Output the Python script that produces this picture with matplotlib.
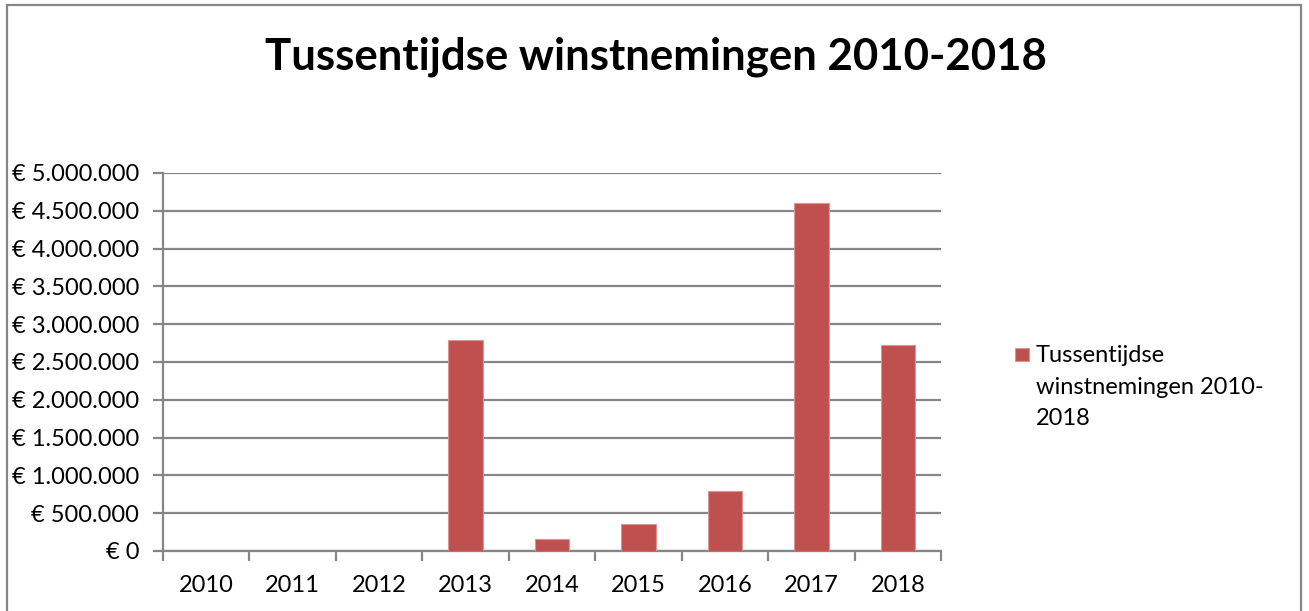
# Tussentijdse winstnemingen 2010-2018 - staafdiagram
import matplotlib.pyplot as plt
from matplotlib.ticker import FuncFormatter, MultipleLocator, FixedLocator
from matplotlib.patches import Rectangle

jaren = ['2010', '2011', '2012', '2013', '2014', '2015', '2016', '2017', '2018']
winst = [0, 0, 0, 2790000, 164000, 353000, 790000, 4608000, 2725000]

titel = 'Tussentijdse winstnemingen 2010-2018'
reeks = 'Tussentijdse\nwinstnemingen 2010-\n2018'

plt.rcParams['font.family'] = ['Lato', 'DejaVu Sans']
grijs = '#868686'
rood = '#c0504d'

fig = plt.figure(figsize=(13.09, 6.11), dpi=100)
ax = fig.add_axes([0.1245, 0.0982, 0.5945, 0.6187])

x = list(range(len(jaren)))
ax.bar(x, winst, width=0.4, color=rood, edgecolor='#d99694', linewidth=0.8,
       zorder=3)

ax.set_xlim(-0.5, len(jaren) - 0.5)
ax.set_ylim(0, 5000000)
ax.yaxis.set_major_locator(MultipleLocator(500000))
ax.yaxis.set_major_formatter(FuncFormatter(
    lambda v, p: '€ ' + f'{int(v):,}'.replace(',', '.')))
ax.grid(axis='y', color=grijs, linewidth=1.6, zorder=0)

ax.set_xticks(x)
ax.set_xticklabels(jaren)
ax.xaxis.set_minor_locator(FixedLocator([i - 0.5 for i in range(len(jaren) + 1)]))
ax.tick_params(axis='x', which='major', length=0, pad=17, labelsize=17)
ax.tick_params(axis='x', which='minor', length=7, width=1.6, color=grijs)
ax.tick_params(axis='y', length=7, width=1.6, color=grijs, labelsize=17, pad=10)

for s in ['top', 'right']:
    ax.spines[s].set_visible(False)
for s in ['left', 'bottom']:
    ax.spines[s].set_color(grijs)
    ax.spines[s].set_linewidth(1.6)

fig.text(0.501, 0.907, titel, ha='center', va='center', fontsize=31.5,
         fontweight='bold')

# legenda (blokje naast de eerste regel, zoals in Excel)
fig.patches.append(Rectangle((0.7754, 0.4092), 0.0104, 0.0218,
                             transform=fig.transFigure, facecolor=rood,
                             edgecolor='#d99694', linewidth=0.8))
fig.text(0.7914, 0.4355, reeks, ha='left', va='top', fontsize=17,
         linespacing=1.63)

# kader rond de grafiek
fig.patches.append(Rectangle((0.005, -0.05), 0.989, 1.042, transform=fig.transFigure,
                             fill=False, edgecolor=grijs, linewidth=1.6))

plt.savefig('out.png', dpi=100)
